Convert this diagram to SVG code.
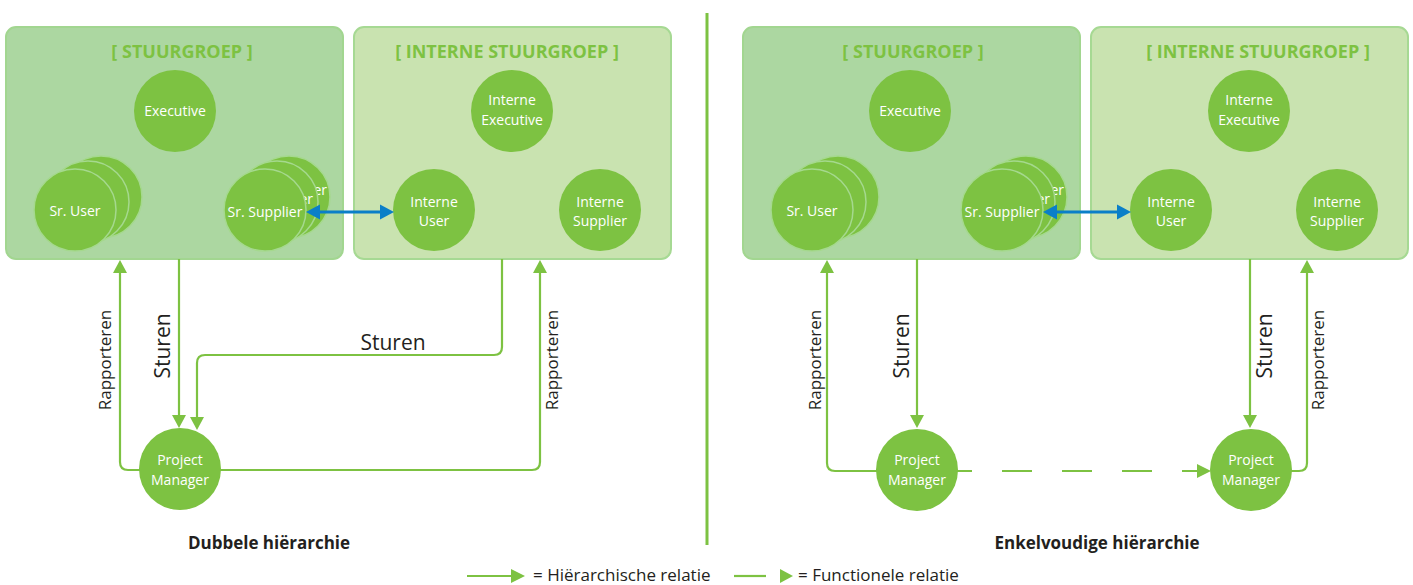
<svg xmlns="http://www.w3.org/2000/svg" width="1413" height="585" viewBox="0 0 1413 585">
<defs>
<style>
.box1{fill:#acd7a1;stroke:#a2d690;stroke-width:2}
.box2{fill:#c9e3b0;stroke:#a6d993;stroke-width:2}
.title{font-family:"Open Sans","Noto Sans",sans-serif;font-weight:bold;font-size:18px;fill:#7dc242;text-anchor:middle}
.node{fill:#7dc242}
.stk{fill:#7dc242;stroke:#a5d98e;stroke-width:1.5}
.nt{font-family:"Open Sans","Noto Sans",sans-serif;font-size:14px;fill:#fff;text-anchor:middle}
.ntE{font-family:"Open Sans","Noto Sans",sans-serif;font-size:14px;fill:#fff;text-anchor:end}
.conn{fill:none;stroke:#7dc242;stroke-width:2.2}
.dash{fill:none;stroke:#7dc242;stroke-width:2.2;stroke-dasharray:30 30}
.blue{fill:none;stroke:#0a7fc8;stroke-width:3}
.ah{fill:#7dc242}
.bh{fill:#0a7fc8}
.lbl{font-family:"Open Sans","Noto Sans",sans-serif;fill:#231f20;text-anchor:middle}
.lgd{font-family:"Open Sans","Noto Sans",sans-serif;fill:#231f20;font-size:17px}
.bold{font-weight:bold;font-size:17px}
</style>
</defs>
<rect width="1413" height="585" fill="#fff"/>

<!-- LEFT HALF -->
<g id="stuurgroep-L">
<rect class="box1" x="6" y="27" width="337" height="232" rx="10"/>
<text class="title" x="182" y="58">[ STUURGROEP ]</text>
</g>
<g id="interne-stuurgroep-L">
<rect class="box2" x="354" y="27" width="317" height="232" rx="10"/>
<text class="title" x="507" y="58">[ INTERNE STUURGROEP ]</text>
</g>
<g id="executive-L">
<circle class="node" cx="175" cy="111" r="41"/>
<text class="nt" x="175" y="116">Executive</text>
</g>
<g id="sr-user-L">
<circle class="stk" cx="101" cy="197" r="41"/>
<circle class="stk" cx="88" cy="202" r="41"/>
<circle class="stk" cx="75" cy="210" r="41"/>
<text class="nt" x="75" y="216">Sr. User</text>
</g>
<g id="sr-supplier-L">
<circle class="stk" cx="289" cy="197" r="41"/>
<text class="ntE" x="327" y="195">er</text>
<circle class="stk" cx="277" cy="202" r="41"/>
<text class="ntE" x="313" y="204">er</text>
<circle class="stk" cx="265" cy="210" r="41"/>
<text class="nt" x="265" y="217">Sr. Supplier</text>
</g>
<g id="interne-executive-L">
<circle class="node" cx="512" cy="111" r="41"/>
<text class="nt" x="512" y="105">Interne</text>
<text class="nt" x="512" y="125">Executive</text>
</g>
<g id="interne-user-L">
<circle class="node" cx="434" cy="210" r="41"/>
<text class="nt" x="434" y="207">Interne</text>
<text class="nt" x="434" y="226">User</text>
</g>
<g id="interne-supplier-L">
<circle class="node" cx="600" cy="210" r="41"/>
<text class="nt" x="600" y="207">Interne</text>
<text class="nt" x="600" y="226">Supplier</text>
</g>

<!-- RIGHT HALF -->
<g id="stuurgroep-R">
<rect class="box1" x="743" y="27" width="337" height="232" rx="10"/>
<text class="title" x="913" y="58">[ STUURGROEP ]</text>
</g>
<g id="interne-stuurgroep-R">
<rect class="box2" x="1091" y="27" width="317" height="232" rx="10"/>
<text class="title" x="1258" y="58">[ INTERNE STUURGROEP ]</text>
</g>
<g id="executive-R">
<circle class="node" cx="910" cy="111" r="41"/>
<text class="nt" x="910" y="116">Executive</text>
</g>
<g id="sr-user-R">
<circle class="stk" cx="838" cy="197" r="41"/>
<circle class="stk" cx="825" cy="202" r="41"/>
<circle class="stk" cx="812" cy="210" r="41"/>
<text class="nt" x="812" y="216">Sr. User</text>
</g>
<g id="sr-supplier-R">
<circle class="stk" cx="1026" cy="197" r="41"/>
<text class="ntE" x="1064" y="195">er</text>
<circle class="stk" cx="1014" cy="202" r="41"/>
<text class="ntE" x="1050" y="204">er</text>
<circle class="stk" cx="1002" cy="210" r="41"/>
<text class="nt" x="1002" y="217">Sr. Supplier</text>
</g>
<g id="interne-executive-R">
<circle class="node" cx="1249" cy="111" r="41"/>
<text class="nt" x="1249" y="105">Interne</text>
<text class="nt" x="1249" y="125">Executive</text>
</g>
<g id="interne-user-R">
<circle class="node" cx="1171" cy="210" r="41"/>
<text class="nt" x="1171" y="207">Interne</text>
<text class="nt" x="1171" y="226">User</text>
</g>
<g id="interne-supplier-R">
<circle class="node" cx="1337" cy="210" r="41"/>
<text class="nt" x="1337" y="207">Interne</text>
<text class="nt" x="1337" y="226">Supplier</text>
</g>

<!-- divider -->
<line x1="707" y1="13" x2="707" y2="545" stroke="#7dc242" stroke-width="3"/>

<!-- CONNECTORS -->
<g id="connectors">
<!-- left half -->
<path class="conn" d="M150,470 H128 Q120,470 120,462 V272"/>
<polygon class="ah" points="120,260 113,273 127,273"/>
<path class="conn" d="M179,259 V416"/>
<polygon class="ah" points="179,428 172,415 186,415"/>
<path class="conn" d="M502,259 V347 Q502,355 494,355 H205 Q197,355 197,363 V418"/>
<polygon class="ah" points="197,430 190,417 204,417"/>
<path class="conn" d="M210,470 H532 Q540,470 540,462 V272"/>
<polygon class="ah" points="540,260 533,273 547,273"/>
<line class="blue" x1="317" y1="212" x2="383" y2="212"/>
<polygon class="bh" points="306,212 320,204.5 320,219.5"/>
<polygon class="bh" points="394,212 380,204.5 380,219.5"/>
<!-- right half -->
<path class="conn" d="M890,471 H835 Q827,471 827,463 V272"/>
<polygon class="ah" points="827,260 820,273 834,273"/>
<path class="conn" d="M917,259 V416"/>
<polygon class="ah" points="917,428 910,415 924,415"/>
<line class="dash" x1="942" y1="471" x2="1199" y2="471"/>
<polygon class="ah" points="1211,471 1197,464 1197,478"/>
<path class="conn" d="M1250,259 V416"/>
<polygon class="ah" points="1250,428 1243,415 1257,415"/>
<path class="conn" d="M1280,471 H1299 Q1307,471 1307,463 V272"/>
<polygon class="ah" points="1307,260 1300,273 1314,273"/>
<line class="blue" x1="1054" y1="212" x2="1120" y2="212"/>
<polygon class="bh" points="1043,212 1057,204.5 1057,219.5"/>
<polygon class="bh" points="1131,212 1117,204.5 1117,219.5"/>
</g>

<g id="project-manager-L">
<circle class="node" cx="180" cy="469" r="41"/>
<text class="nt" x="180" y="465">Project</text>
<text class="nt" x="180" y="485">Manager</text>
</g>
<g id="project-manager-R1">
<circle class="node" cx="917" cy="470" r="41"/>
<text class="nt" x="917" y="465">Project</text>
<text class="nt" x="917" y="485">Manager</text>
</g>
<g id="project-manager-R2">
<circle class="node" cx="1251" cy="470" r="41"/>
<text class="nt" x="1251" y="465">Project</text>
<text class="nt" x="1251" y="485">Manager</text>
</g>

<!-- connector labels -->
<g id="labels">
<text class="lbl" font-size="17" transform="translate(111,360) rotate(-90)">Rapporteren</text>
<text class="lbl" font-size="21" transform="translate(170,346) rotate(-90)">Sturen</text>
<text class="lbl" font-size="21" x="393" y="350">Sturen</text>
<text class="lbl" font-size="17" transform="translate(558,360) rotate(-90)">Rapporteren</text>
<text class="lbl" font-size="17" transform="translate(821,360) rotate(-90)">Rapporteren</text>
<text class="lbl" font-size="21" transform="translate(909,346) rotate(-90)">Sturen</text>
<text class="lbl" font-size="21" transform="translate(1272,346) rotate(-90)">Sturen</text>
<text class="lbl" font-size="17" transform="translate(1324,360) rotate(-90)">Rapporteren</text>
<text class="lbl bold" x="269" y="549">Dubbele hiërarchie</text>
<text class="lbl bold" x="1097" y="549">Enkelvoudige hiërarchie</text>
</g>

<!-- legend -->
<g id="legend">
<line class="conn" x1="467" y1="576" x2="512" y2="576"/>
<polygon class="ah" points="525,576 511,569 511,583"/>
<text class="lgd" x="533" y="581">= Hiërarchische relatie</text>
<line class="conn" x1="734" y1="576" x2="766" y2="576"/>
<polygon class="ah" points="793,576 780,569 780,583"/>
<text class="lgd" x="798" y="581">= Functionele relatie</text>
</g>
</svg>
